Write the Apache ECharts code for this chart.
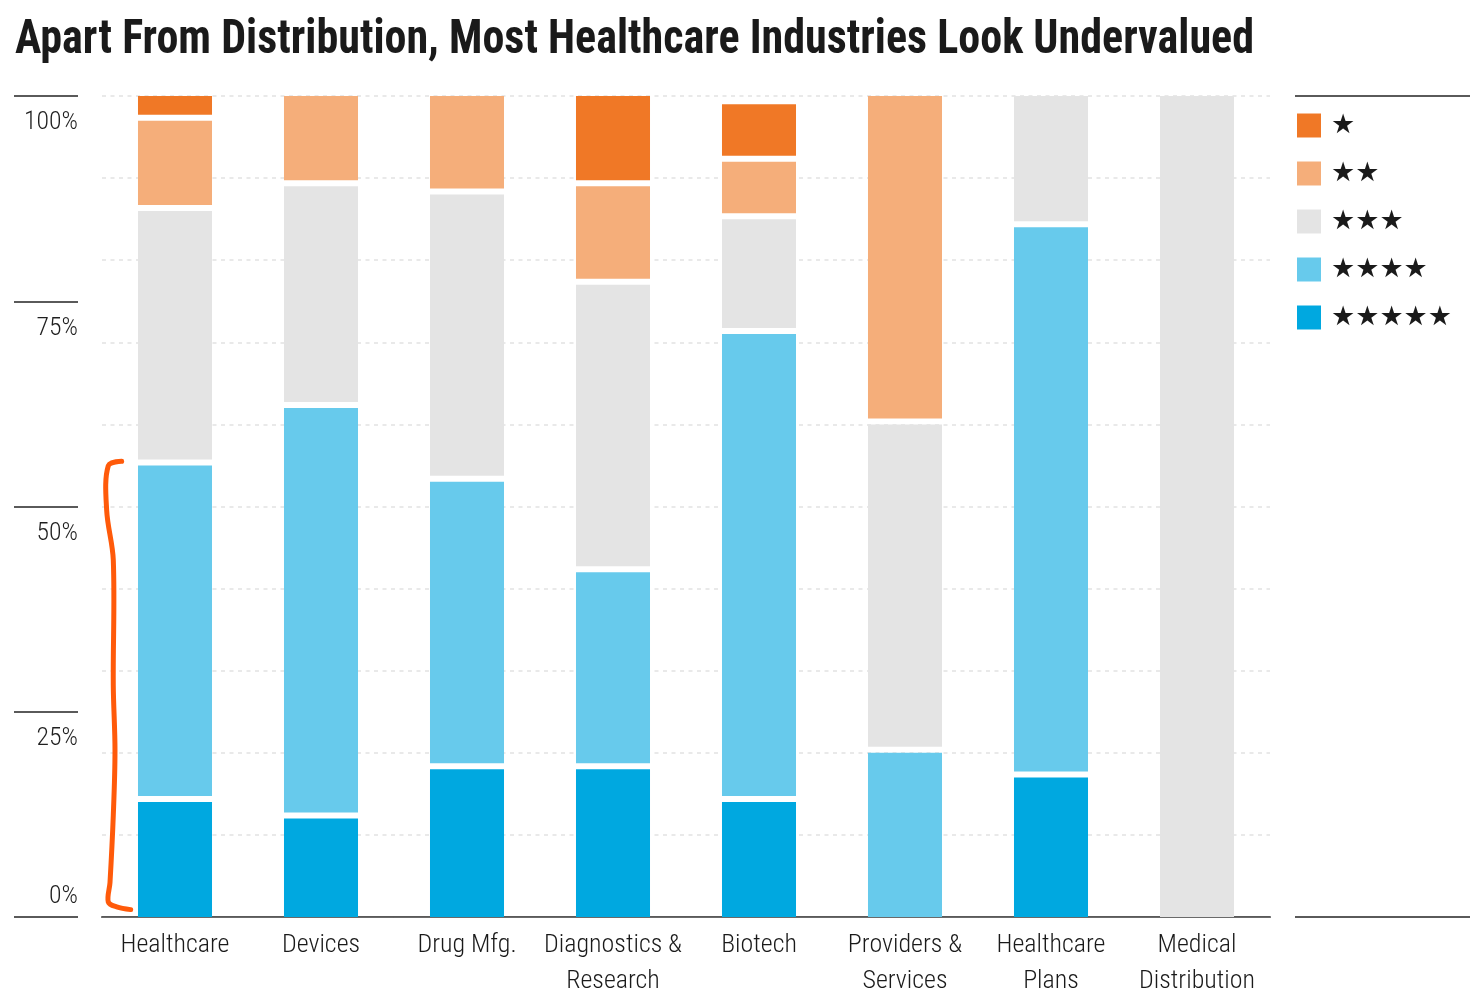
<!DOCTYPE html>
<html>
<head>
<meta charset="utf-8">
<script src="https://cdn.jsdelivr.net/npm/echarts@6/dist/echarts.min.js"></script>
<style>
  html, body { margin: 0; padding: 0; background: #ffffff; }
  #chart { width: 1470px; height: 1002px; }
</style>
</head>
<body>
<div id="chart"></div>
<script>
// ---------------- data ----------------
const titleText = 'Apart From Distribution, Most Healthcare Industries Look Undervalued';
const categories = ['Healthcare', 'Devices', 'Drug Mfg.', 'Diagnostics &\nResearch', 'Biotech',
                    'Providers &\nServices', 'Healthcare\nPlans', 'Medical\nDistribution'];
const ratingNames = ['★', '★★', '★★★', '★★★★', '★★★★★'];
// share of companies (%) by Morningstar rating
const fiveStar  = [14, 12, 18, 18, 14,  0, 17,   0];
const fourStar  = [41, 50, 35, 24, 57, 20, 67,   0];
const threeStar = [31, 27, 35, 35, 14, 40, 16, 100];
const twoStar   = [11, 11, 12, 12,  7, 40,  0,   0];
const oneStar   = [ 3,  0,  0, 11,  7,  0,  0,   0];
const yTickLabels = [0, 25, 50, 75, 100];

// ---------------- font selection ----------------
const probe = document.createElement('canvas').getContext('2d');
function fontAvailable(name) {
  const s = 'Healthcare Distribution 0123456789%';
  for (const base of ['monospace', 'serif']) {
    probe.font = '40px ' + base;
    const w0 = probe.measureText(s).width;
    probe.font = '40px "' + name + '", ' + base;
    const w1 = probe.measureText(s).width;
    if (Math.abs(w0 - w1) > 0.01) return true;
  }
  return false;
}
const candidates = ['Roboto Condensed', 'Liberation Sans Narrow', 'DejaVu Sans Condensed'];
const avail = candidates.filter(fontAvailable);
const baseFont = avail.length ? avail[0] : 'DejaVu Sans Condensed';
const FONT = '"' + baseFont + '", "DejaVu Sans Condensed", sans-serif';
const LABEL_WEIGHT = 300;

function fitSize(text, targetW, maxSize, weight) {
  probe.font = (weight || 'normal') + ' 100px ' + FONT;
  const w = probe.measureText(text).width;
  return Math.min(maxSize, 100 * targetW / w);
}
const xLabelSize = fitSize('Healthcare', 109, 28, LABEL_WEIGHT);
const yLabelSize = fitSize('100%', 54, 28, LABEL_WEIGHT);

// ---------------- styling ----------------
const colors = { '★': '#F07826', '★★': '#F5AE7A', '★★★': '#E4E4E4', '★★★★': '#67CAEC', '★★★★★': '#00A8E0' };
const BAR_RATIO = 0.507;
const GAP = 6;

// stacking bottom (5 stars) -> top (1 star)
const stackOrder = [
  { name: '★★★★★', values: fiveStar },
  { name: '★★★★',  values: fourStar },
  { name: '★★★',   values: threeStar },
  { name: '★★',    values: twoStar },
  { name: '★',     values: oneStar }
];
const cum = categories.map(() => 0);
const seriesData = {};
stackOrder.forEach(s => {
  seriesData[s.name] = s.values.map((v, i) => {
    const lo = cum[i];
    cum[i] += v;
    return [i, lo, cum[i]];
  });
});

function renderSeg(params, api) {
  const lo = api.value(1), hi = api.value(2);
  if (!(hi > lo)) return null;
  const ci = api.value(0);
  const pT = api.coord([ci, hi]);
  const pB = api.coord([ci, lo]);
  const bw = api.size([1, 0])[0] * BAR_RATIO;
  const gap = lo > 0 ? GAP : 0;
  return {
    type: 'rect',
    shape: { x: pT[0] - bw / 2, y: pT[1], width: bw, height: Math.max(0, pB[1] - pT[1] - gap) },
    style: api.style()
  };
}

const series = ratingNames.map(name => ({
  name: name,
  type: 'custom',
  renderItem: renderSeg,
  encode: { x: 0, y: [1, 2] },
  itemStyle: { color: colors[name] },
  data: seriesData[name],
  z: 3
}));

const chart = echarts.init(document.getElementById('chart'), null, { renderer: 'canvas' });

const option = {
  backgroundColor: '#ffffff',
  animation: false,
  grid: { left: 102, right: 200, top: 96, bottom: 85, containLabel: false },
  legend: {
    data: ratingNames,
    orient: 'vertical',
    left: 1297,
    top: 112,
    padding: 0,
    icon: 'rect',
    itemWidth: 24,
    itemHeight: 24,
    itemGap: 21,
    selectedMode: false,
    textStyle: { fontFamily: 'DejaVu Sans', fontSize: 27, color: '#1a1a1a', padding: [0, 0, 0, 5] }
  },
  xAxis: [
    {
      type: 'category',
      data: categories,
      position: 'bottom',
      axisLine: { show: true, lineStyle: { color: '#5a5a5a', width: 2 } },
      axisTick: { show: false },
      axisLabel: { fontFamily: FONT, fontWeight: LABEL_WEIGHT, fontSize: xLabelSize, lineHeight: 36,
                   color: '#1a1a1a', margin: 11, interval: 0 },
      splitLine: { show: false }
    },
    {
      type: 'category',
      data: categories,
      position: 'top',
      axisLine: { show: true, lineStyle: { color: '#6a6a6a', width: 1 } },
      axisTick: { show: false },
      axisLabel: { show: false },
      splitLine: { show: false }
    }
  ],
  yAxis: [
    {
      type: 'value', min: 0, max: 100, interval: 10,
      axisLine: { show: false }, axisTick: { show: false }, axisLabel: { show: false },
      splitLine: { show: true, lineStyle: { color: '#e2e2e2', width: 1.5, type: [4, 4.5] } }
    },
    {
      type: 'value', min: 0, max: 100, interval: 25, position: 'left', offset: 24,
      axisLine: { show: false },
      axisTick: { show: true, length: 64, lineStyle: { color: '#5a5a5a', width: 2 } },
      axisLabel: {
        formatter: v => (v === 0 || yTickLabels.indexOf(v) < 0) ? '' : v + '%',
        fontFamily: FONT, fontWeight: LABEL_WEIGHT, fontSize: yLabelSize, color: '#1f1f1f', align: 'right',
        verticalAlign: 'top', margin: 0, padding: [14, 0, 0, 0], showMinLabel: true, showMaxLabel: true
      },
      splitLine: { show: false }
    },
    {
      type: 'value', min: 0, max: 100, interval: 100, position: 'left', offset: 24,
      axisLine: { show: false }, axisTick: { show: false },
      axisLabel: {
        formatter: v => v === 0 ? '0%' : '',
        fontFamily: FONT, fontWeight: LABEL_WEIGHT, fontSize: yLabelSize, color: '#1f1f1f', align: 'right',
        verticalAlign: 'bottom', margin: 0, padding: [0, 0, 7, 0], showMinLabel: true, showMaxLabel: true
      },
      splitLine: { show: false }
    }
  ],
  series: series
};

chart.setOption(option);

// ---------------- decorations (title, legend rules, bracket) ----------------
const pTop = chart.convertToPixel({ xAxisIndex: 0, yAxisIndex: 0 }, [0, 100]);
const pBot = chart.convertToPixel({ xAxisIndex: 0, yAxisIndex: 0 }, [0, 0]);
const p1 = chart.convertToPixel({ xAxisIndex: 0, yAxisIndex: 0 }, [1, 0]);
const band = p1[0] - pBot[0];
const barLeft = pBot[0] - band * BAR_RATIO / 2;

// bracket spans the 4- and 5-star share of Healthcare
const bracketTopVal = fiveStar[0] + fourStar[0] + 0.5;
const bracketBotVal = 0.9;
const yA = chart.convertToPixel({ yAxisIndex: 0 }, bracketTopVal);
const yB = chart.convertToPixel({ yAxisIndex: 0 }, bracketBotVal);
const BRACKET_SHAPE = [
  [-16.3, 0], [-29.7, 0.01], [-31.3, 0.11], [-24.7, 0.22], [-24.7, 0.50],
  [-23.0, 0.645], [-24.7, 0.79], [-28.0, 0.94], [-29.7, 0.983], [-21.3, 0.994], [-7.3, 1.0]
];
const bracketPts = BRACKET_SHAPE.map(p => [barLeft + p[0], yA + p[1] * (yB - yA)]);

const TITLE_FONT_SIZE = 48;
const titleFont = 'bold ' + TITLE_FONT_SIZE + 'px ' + FONT;
probe.font = titleFont;
const measured = probe.measureText(titleText).width;
const titleScale = Math.min(1, 1239 / measured);

chart.setOption({
  graphic: [
    {
      type: 'text', id: 'title', x: 15, y: 17, scaleX: titleScale, scaleY: 1, originX: 0, originY: 0,
      style: { text: titleText, font: titleFont, fill: '#1a1a1a', verticalAlign: 'top' },
      z: 10
    },
    {
      type: 'line', id: 'legTop', shape: { x1: 1295, y1: pTop[1], x2: 1470, y2: pTop[1] },
      style: { stroke: '#5a5a5a', lineWidth: 2 }, z: 10
    },
    {
      type: 'line', id: 'legBot', shape: { x1: 1295, y1: pBot[1], x2: 1470, y2: pBot[1] },
      style: { stroke: '#5a5a5a', lineWidth: 2 }, z: 10
    },
    {
      type: 'polyline', id: 'bracket', shape: { points: bracketPts, smooth: 0.35 },
      style: { stroke: '#FF5A0A', lineWidth: 5, lineCap: 'round', lineJoin: 'round', fill: null }, z: 10
    }
  ]
});
</script>
</body>
</html>
